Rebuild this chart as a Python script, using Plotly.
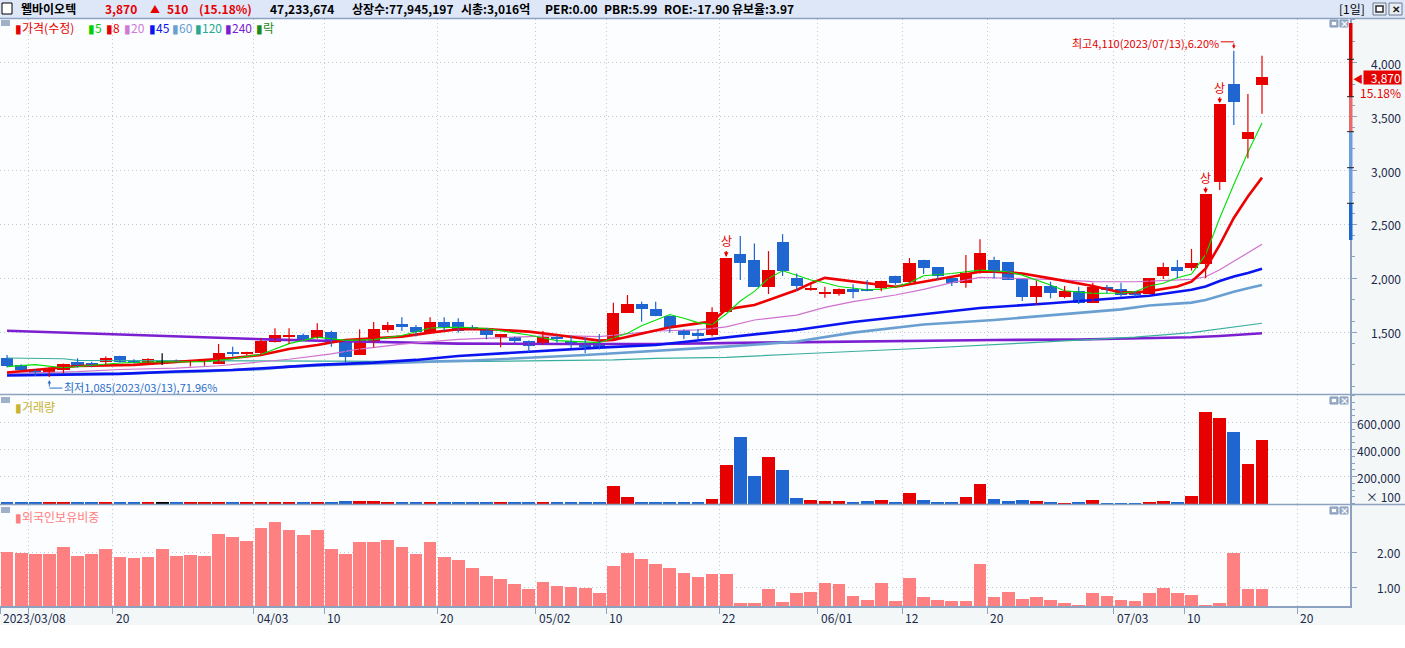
import plotly.graph_objects as go

# ---------------- data ----------------
opens = [1265, 1198, 1157, 1105, 1151, 1228, 1213, 1225, 1281, 1234,
         1201, 1234, 1244, 1228, 1234, 1207, 1312, 1306, 1312, 1414,
         1460, 1475, 1444, 1503, 1429, 1293, 1398, 1521, 1577, 1546,
         1506, 1593, 1596, 1546, 1537, 1460, 1460, 1420, 1389, 1460,
         1423, 1401, 1389, 1438, 1682, 1759, 1713, 1654, 1522, 1491,
         1478, 1688, 2225, 2170, 1923, 2336, 2003, 1895, 1864, 1858,
         1901, 1898, 1914, 2022, 1963, 2170, 2105, 2003, 1960, 2046,
         2170, 2151, 1994, 1830, 1929, 1830, 1883, 1775, 1917, 1901,
         1867, 1852, 2025, 2106, 2100, 2134, 2897, 3802, 3290, 3793]
highs = [1290, 1203, 1160, 1176, 1210, 1259, 1228, 1275, 1283, 1250,
         1260, 1305, 1248, 1240, 1250, 1392, 1367, 1320, 1444, 1537,
         1537, 1490, 1583, 1515, 1430, 1528, 1596, 1596, 1639, 1568,
         1639, 1639, 1630, 1568, 1540, 1485, 1462, 1423, 1512, 1475,
         1469, 1454, 1485, 1775, 1846, 1784, 1784, 1657, 1525, 1528,
         1732, 2190, 2392, 2324, 2253, 2410, 2046, 1960, 1923, 1906,
         1945, 1985, 1978, 2025, 2188, 2172, 2105, 2003, 2216, 2364,
         2201, 2151, 1994, 1978, 1969, 1929, 1923, 1960, 1938, 1960,
         1883, 2000, 2146, 2171, 2273, 2780, 3615, 4110, 3710, 4065]
lows = [1176, 1146, 1096, 1085, 1120, 1173, 1176, 1198, 1220, 1210,
        1200, 1198, 1225, 1182, 1190, 1205, 1275, 1290, 1290, 1405,
        1392, 1423, 1440, 1367, 1219, 1290, 1361, 1500, 1512, 1460,
        1497, 1512, 1497, 1521, 1435, 1361, 1398, 1315, 1385, 1404,
        1352, 1306, 1340, 1435, 1680, 1599, 1648, 1497, 1438, 1438,
        1460, 1688, 1985, 1920, 1855, 2022, 1886, 1886, 1821, 1840,
        1815, 1880, 1880, 1940, 1960, 2040, 1985, 1929, 1914, 2046,
        2000, 1985, 1790, 1753, 1815, 1815, 1762, 1775, 1861, 1830,
        1830, 1852, 1995, 2001, 2072, 2001, 2820, 3422, 3115, 3527]
closes = [1188, 1151, 1114, 1173, 1207, 1188, 1203, 1265, 1222, 1222,
          1253, 1234, 1228, 1237, 1240, 1306, 1300, 1315, 1423, 1475,
          1475, 1441, 1521, 1398, 1275, 1429, 1531, 1568, 1552, 1506,
          1596, 1552, 1515, 1534, 1475, 1481, 1423, 1377, 1460, 1435,
          1398, 1367, 1352, 1682, 1759, 1713, 1651, 1537, 1475, 1475,
          1688, 2190, 2145, 1923, 2077, 2068, 1932, 1910, 1870, 1904,
          1877, 1889, 1975, 1957, 2145, 2099, 2022, 1960, 2052, 2235,
          2068, 1985, 1830, 1929, 1867, 1883, 1775, 1917, 1892, 1846,
          1852, 2000, 2103, 2072, 2140, 2780, 3615, 3632, 3360, 3870]
volumes = [7500, 7500, 7500, 7500, 7500, 7500, 7500, 7500, 7500, 7500,
           7500, 7500, 7500, 7500, 7500, 15000, 7500, 7500, 7500, 15000,
           7500, 7500, 15000, 7500, 22500, 22500, 22500, 15000, 15000, 7500,
           15000, 7500, 7500, 7500, 7500, 7500, 7500, 7500, 7500, 7500,
           7500, 7500, 7500, 127500, 52500, 15000, 7500, 15000, 15000, 7500,
           32500, 287500, 490000, 205000, 347500, 250000, 40000, 27500, 20000, 20000,
           10000, 17500, 25000, 10000, 77500, 25000, 10000, 10000, 47500, 145000,
           32500, 17500, 25000, 17500, 10000, 2500, 10000, 25000, 2500, 2500,
           2500, 10000, 17500, 10000, 55000, 677500, 632500, 527500, 295000, 475000]
foreign_pct = [2.02, 1.99, 1.96, 1.96, 2.14, 1.90, 1.96, 2.08, 1.87, 1.84,
               1.87, 2.08, 1.90, 1.93, 1.90, 2.51, 2.43, 2.31, 2.69, 2.86,
               2.63, 2.49, 2.63, 2.08, 1.96, 2.28, 2.28, 2.34, 2.14, 1.96,
               2.28, 1.87, 1.79, 1.55, 1.32, 1.23, 1.09, 0.94, 1.15, 1.03,
               1.00, 0.97, 0.83, 1.61, 1.99, 1.82, 1.67, 1.55, 1.41, 1.29,
               1.39, 1.39, 0.56, 0.56, 0.94, 0.59, 0.83, 0.88, 1.12, 1.09,
               0.74, 0.65, 1.12, 0.62, 1.26, 0.71, 0.65, 0.62, 0.62, 1.67,
               0.71, 0.88, 0.68, 0.71, 0.65, 0.56, 0.50, 0.85, 0.75, 0.65,
               0.62, 0.83, 0.97, 0.83, 0.77, 0.50, 0.56, 1.99, 0.94, 0.94]

ma5_idx = [0, 2, 4, 6, 8, 10, 12, 14, 16, 18, 20, 22, 24, 26, 28, 30, 32, 34, 37, 39,
           42, 43, 44, 45, 47, 48, 49, 50, 51, 52, 53, 54, 55, 56, 57, 58, 59, 61, 62, 63,
           64, 65, 67, 69, 71, 72, 73, 74, 75, 77, 79, 80, 81, 82, 83, 84, 85, 86, 87, 88, 89]
ma5_val = [1182, 1200, 1172, 1190, 1215, 1225, 1230, 1228, 1255, 1295, 1395, 1455, 1425, 1432, 1470, 1540, 1548, 1535, 1475, 1423,
           1404, 1444, 1491, 1560, 1665, 1630, 1590, 1570, 1670, 1790, 1880, 2000, 2070, 2030, 1985, 1960, 1925, 1895, 1900, 1920,
           1960, 2025, 2045, 2077, 2062, 2030, 1985, 1938, 1886, 1861, 1865, 1877, 1929, 1954, 2005, 2040, 2220, 2560, 2870, 3170, 3440]
ma8_idx = [0, 3, 5, 9, 12, 14, 16, 18, 20, 22, 24, 26, 28, 30, 32, 34, 37, 39, 42, 43,
           45, 47, 49, 50, 51, 53, 56, 57, 58, 59, 61, 63, 65, 67, 69, 70, 72, 74, 77, 79,
           80, 81, 83, 84, 85, 86, 87, 88, 89]
ma8_val = [1128, 1160, 1188, 1198, 1225, 1238, 1262, 1290, 1345, 1383, 1429, 1445, 1460, 1497, 1528, 1530, 1506, 1475, 1423, 1429,
           1491, 1546, 1583, 1600, 1713, 1753, 1892, 1954, 2005, 1990, 1954, 1923, 1969, 2015, 2062, 2062, 2046, 2000, 1929, 1870,
           1870, 1880, 1924, 1970, 2090, 2310, 2560, 2760, 2934]
ma20_idx = [0, 5, 8, 12, 15, 18, 20, 23, 25, 28, 30, 32, 39, 42, 46, 49, 51, 53, 56, 58,
            60, 63, 65, 67, 69, 72, 75, 77, 80, 84, 85, 86, 87, 88, 89]
ma20_val = [1118, 1135, 1155, 1168, 1190, 1225, 1250, 1300, 1345, 1390, 1415, 1435, 1469, 1460, 1512, 1522, 1550, 1614, 1660, 1731,
            1784, 1846, 1898, 1960, 2010, 2000, 1985, 1970, 1969, 1990, 2015, 2080, 2160, 2240, 2316]
ma45_idx = [0, 8, 12, 16, 19, 22, 26, 29, 32, 38, 42, 46, 51, 56, 60, 65, 69, 74, 79, 81, 84, 85, 86, 87, 88, 89]
ma45_val = [1099, 1115, 1136, 1151, 1173, 1198, 1219, 1244, 1281, 1330, 1358, 1383, 1454, 1522, 1595, 1665, 1725, 1769, 1815, 1839,
            1894, 1925, 1975, 2017, 2050, 2090]
ma60_idx = [0, 8, 14, 16, 18, 20, 23, 26, 30, 33, 41, 51, 56, 60, 65, 70, 74, 79, 81, 84, 85, 86, 87, 88, 89]
ma60_val = [1112, 1118, 1136, 1151, 1157, 1182, 1198, 1213, 1228, 1238, 1290, 1367, 1414, 1497, 1572, 1614, 1660, 1713, 1748, 1775,
            1800, 1840, 1877, 1908, 1939]
ma120_idx = [0, 4, 5, 15, 25, 32, 37, 43, 46, 51, 56, 60, 65, 72, 77, 80, 84, 89]
ma120_val = [1262, 1255, 1240, 1235, 1230, 1228, 1235, 1245, 1259, 1268, 1299, 1321, 1352, 1400, 1435, 1455, 1497, 1584]
ma240_idx = [0, 2, 5, 8, 10, 12, 14, 16, 19, 23, 28, 32, 40, 46, 52, 58, 64, 70, 76, 80, 84, 86, 88, 89]
ma240_val = [1515, 1506, 1491, 1481, 1472, 1460, 1454, 1444, 1432, 1420, 1404, 1395, 1392, 1392, 1402, 1412, 1416, 1428, 1434, 1444,
             1454, 1466, 1481, 1491]

tick_idx = [0, 2, 8, 18, 23, 31, 38, 43, 51, 58, 64, 70, 79, 84, 92]
tick_text = ["2023/03/08", "", "20", "04/03", "10", "20", "05/02", "10", "22", "06/01", "12", "20", "07/03", "10", "20"]
price_ticks = [1500, 2000, 2500, 3000, 3500, 4000]
vol_ticks = [200000, 400000, 600000]
vol_tick_text = ["200,000", "400,000", "600,000"]
for_ticks = [1.0, 2.0]
for_tick_text = ["1.00", "2.00"]
limit_up_idx = [51, 85, 86]
high_idx, high_val = 87, 4110
low_idx, low_val = 3, 1085
last_close = 3870

stock_name = "웰바이오텍"
header_items = [("3,870", "red"), ("▲", "red"), ("510", "red"), ("(15.18%)", "red"),
                ("47,233,674", "black"), ("상장수:77,945,197", "black"), ("시총:3,016억", "black"),
                ("PER:0.00", "black"), ("PBR:5.99", "black"), ("ROE:-17.90", "black"), ("유보율:3.97", "black")]
legend_items = [("가격(수정)", "#e60000"), ("5", "#00d000"), ("8", "#e60000"), ("20", "#d07ad8"),
                ("45", "#0a14f0"), ("60", "#6a9fd2"), ("120", "#2aa890"), ("240", "#7b1fd1"), ("락", "#1a8a1a")]

# ---------------- layout helpers ----------------
W, H = 1405, 648
PLOT_R = 1350
KR = "Noto Sans CJK KR"
NAVY = "#1c2a4a"
RED = "#e60000"
BLUE = "#1f66d1"
AXC = "#8da2c0"
GRID = "#c3cad2"
GDASH = "1px,3px"


def px(x):
    return x / W


def py(y):
    return 1 - y / H


n = len(closes)
assert all(len(a) == n for a in (opens, highs, lows, volumes, foreign_pct))
idx = list(range(n))

fig = go.Figure()

# moving averages (drawn below candles)
ma_specs = [
    (ma240_idx, ma240_val, "#7b1fd1", 2.6),
    (ma120_idx, ma120_val, "#3aae9e", 1.2),
    (ma60_idx, ma60_val, "#6a9fd2", 2.6),
    (ma45_idx, ma45_val, "#0a14f0", 2.6),
    (ma20_idx, ma20_val, "#d070d0", 1.2),
    (ma8_idx, ma8_val, "#ee0000", 2.6),
    (ma5_idx, ma5_val, "#00e000", 1.1),
]
for xi, yv, col, wd in ma_specs:
    fig.add_trace(go.Scatter(x=xi, y=yv, mode="lines", line=dict(color=col, width=wd),
                             xaxis="x", yaxis="y", hoverinfo="skip"))


def kind(i):
    if closes[i] > opens[i]:
        return "up"
    if closes[i] < opens[i]:
        return "down"
    return "flat"


colors = {"up": RED, "down": BLUE, "flat": "#000000"}
for k, col in colors.items():
    sel = [i for i in idx if kind(i) == k]
    if not sel:
        continue
    wx, wy = [], []
    for i in sel:
        wx += [i, i, None]
        wy += [lows[i], highs[i], None]
    fig.add_trace(go.Scatter(x=wx, y=wy, mode="lines", line=dict(color=col, width=1.2),
                             xaxis="x", yaxis="y", hoverinfo="skip"))
    bases, hts = [], []
    for i in sel:
        lo, hi = min(opens[i], closes[i]), max(opens[i], closes[i])
        h = max(hi - lo, 10)
        bases.append(lo - (h - (hi - lo)) / 2)
        hts.append(h)
    fig.add_trace(go.Bar(x=sel, y=hts, base=bases, width=0.86,
                         marker=dict(color=col, line=dict(width=0)),
                         xaxis="x", yaxis="y", hoverinfo="skip"))

# volume
vcol = [colors[kind(i)] for i in idx]
fig.add_trace(go.Bar(x=idx, y=volumes, width=0.9, marker=dict(color=vcol, line=dict(width=0)),
                     xaxis="x2", yaxis="y2", hoverinfo="skip"))
# foreign ownership
fig.add_trace(go.Bar(x=idx, y=foreign_pct, width=0.9, marker=dict(color="#ff8080", line=dict(width=0)),
                     xaxis="x3", yaxis="y3", hoverinfo="skip"))

xcommon = dict(range=[-0.5, 95.24], tickmode="array", tickvals=[t - 0.5 for t in tick_idx],
               showgrid=True, gridcolor=GRID, griddash=GDASH, gridwidth=1, zeroline=False,
               showticklabels=False, fixedrange=True, automargin=False)
ycommon = dict(side="right", showticklabels=False, showgrid=True, gridcolor=GRID, griddash=GDASH,
               gridwidth=1, zeroline=False, showline=True, linecolor=AXC, linewidth=1.5,
               ticks="outside", ticklen=5, tickcolor=AXC, automargin=False, fixedrange=True)

fig.update_layout(
    width=W, height=H, margin=dict(l=0, r=0, t=0, b=0),
    paper_bgcolor="white", plot_bgcolor="#fbfdfe", showlegend=False,
    barmode="overlay", bargap=0,
    xaxis=dict(domain=[0, px(PLOT_R)], anchor="y", ticks="", **xcommon),
    xaxis2=dict(domain=[0, px(PLOT_R)], anchor="y2", matches="x", ticks="", **xcommon),
    xaxis3=dict(domain=[0, px(PLOT_R)], anchor="y3", matches="x", ticks="outside", ticklen=6,
                tickcolor=AXC, showline=True, linecolor=AXC, linewidth=1.5, **xcommon),
    yaxis=dict(domain=[py(394), py(19)], anchor="x", range=[928, 4405], tickvals=price_ticks,
               minor=dict(tickmode="linear", tick0=0, dtick=200, ticks="outside", ticklen=3,
                          tickcolor=AXC, showgrid=False), **ycommon),
    yaxis2=dict(domain=[py(504), py(395)], anchor="x2", range=[-3000, 805000], tickvals=vol_ticks,
                minor=dict(tickmode="linear", tick0=0, dtick=50000, ticks="outside", ticklen=3,
                           tickcolor=AXC, showgrid=False), **ycommon),
    yaxis3=dict(domain=[py(606), py(505)], anchor="x3", range=[0.466, 3.35], tickvals=for_ticks, **ycommon),
)

shapes = []
ann = []


def rect(x0, y0, x1, y1, fill, line=None, lw=0, layer="below"):
    shapes.append(dict(type="rect", xref="paper", yref="paper", x0=px(x0), x1=px(x1), y0=py(y1), y1=py(y0),
                       fillcolor=fill, line=dict(color=line or fill, width=lw), layer=layer))


def hline(y, x0, x1, col=AXC, w=1.5):
    shapes.append(dict(type="line", xref="paper", yref="paper", x0=px(x0), x1=px(x1), y0=py(y), y1=py(y),
                       line=dict(color=col, width=w), layer="above"))


def text(x, y, s, color=NAVY, size=12, xanchor="left", xref="paper", yref="paper", bold=False, family=KR, **kw):
    ann.append(dict(x=x, y=y, xref=xref, yref=yref, text=(f"<b>{s}</b>" if bold else s), showarrow=False,
                    xanchor=xanchor, yanchor="middle", font=dict(family=family, size=size, color=color), **kw))


# backgrounds
rect(0, 0, W, 18, "#dde7f8")
rect(PLOT_R + 1, 19, W, 625, "#f3f7f8")
rect(0, 606, PLOT_R + 1, 625, "#f3f7f8")
hline(18.5, 0, W)
hline(394.5, 0, W)
hline(504.5, 0, W)

# header
rect(2, 3, 12, 14, "white", line="#000000", lw=1, layer="above")
text(px(19), py(9), stock_name, color="#000000", size=12, bold=True)
hx = [103, 148, 165, 197, 268, 350, 459, 543, 602, 662, 730]
for (s, c), x in zip(header_items, hx):
    text(px(x), py(9), s, color=(RED if c == "red" else "#000000"), size=(10 if s == "▲" else 12), bold=True)
text(px(1337), py(9), "[1일]", color="#000000", size=12)
rect(1373, 3, 1386, 15, "#e9eef6", line="#6b7a90", lw=1, layer="above")
rect(1376, 6, 1383, 12, "white", line="#2a2a2a", lw=1.5, layer="above")
rect(1389, 3, 1402, 15, "#e9eef6", line="#6b7a90", lw=1, layer="above")
text(px(1395.5), py(9), "✕", color="#1a1a1a", size=10, xanchor="center", bold=True)

# panel corner icons
for top in (20, 397, 507):
    rect(1, top, 10, top + 6, "#9fb1c9", layer="above")
    rect(1330, top, 1338, top + 7, "#9fb1c9", line="#8097b8", lw=1, layer="above")
    rect(1332, top + 2, 1336, top + 5, "white", layer="above")
    rect(1340, top, 1348, top + 7, "#9fb1c9", line="#8097b8", lw=1, layer="above")
    text(px(1344), py(top + 3.5), "×", color="white", size=9, xanchor="center", bold=True)

# legends
lx = [13, 86, 104, 122, 147, 170, 193, 223, 254]
for (s, c), x in zip(legend_items, lx):
    text(px(x), py(28), "▮" + s, color=c, size=12)
text(px(13), py(406), "▮거래량", color="#c8b432", size=12)
text(px(13), py(516), "▮외국인보유비중", color="#ff7f7f", size=12)

# axis labels
for v in price_ticks:
    text(px(1402), v, f"{v:,}", xanchor="right", yref="y", size=12, height=14, borderpad=0)
for v, s in zip(vol_ticks, vol_tick_text):
    text(px(1402), v, s, xanchor="right", yref="y2", size=12, height=14, borderpad=0)
text(px(1402), py(496), "× 100", xanchor="right", size=12, height=14, borderpad=0)
for v, s in zip(for_ticks, for_tick_text):
    text(px(1402), v, s, xanchor="right", yref="y3", size=12, height=14, borderpad=0)

# x labels
for t, s in zip(tick_idx, tick_text):
    if s:
        text(t - 0.5, py(617), s, xref="x3", xshift=1, size=12)

# right-side price bar indicator
for (y0, y1, c) in [(23, 97, "#e00000"), (97, 132, "#e86a6a"), (132, 203, "#6b9de0"), (203, 240, "#1f66d1")]:
    rect(1349, y0, 1352.5, y1, c, layer="above")
for yy in (59.3, 96.7, 131.7, 167.7, 203.3):
    hline(yy, 1347, 1354, col="#222222", w=1)

# current price tag
ann.append(dict(x=px(1402), y=last_close, xref="paper", yref="y", text="3,870", showarrow=False,
                xanchor="right", yanchor="middle", yshift=-1, bgcolor=RED, width=37, height=13, align="right",
                valign="middle", borderpad=0, font=dict(family=KR, size=12, color="white")))
text(px(1351), last_close, "◀", color=RED, size=10, yref="y", height=12, yshift=-1)
ann.append(dict(x=px(1402), y=last_close, xref="paper", yref="y", text="15.18%", showarrow=False,
                xanchor="right", yanchor="top", yshift=-8, height=13, valign="middle", borderpad=0,
                font=dict(family=KR, size=12, color=RED)))

# upper-limit markers
for i in limit_up_idx:
    ann.append(dict(x=i, y=closes[i], xref="x", yref="y", text="상", showarrow=True, ax=0, ay=-17,
                    arrowhead=2, arrowsize=0.7, arrowwidth=1.3, arrowcolor=RED, standoff=1,
                    font=dict(family=KR, size=12, color=RED)))

# highest / lowest
text(high_idx, high_val, "최고4,110(2023/07/13),6.20%", color=RED, size=11, xanchor="right",
     xref="x", yref="y", xshift=-13, yshift=8)
shapes.append(dict(type="line", xref="x", yref="y", xsizemode="pixel", ysizemode="pixel",
                   xanchor=high_idx, yanchor=high_val, x0=-13, x1=0, y0=9, y1=9,
                   line=dict(color=RED, width=1), layer="above"))
ann.append(dict(x=high_idx, y=high_val, xref="x", yref="y", text="", showarrow=True, ax=0, ay=-9,
                arrowhead=2, arrowsize=0.7, arrowwidth=1, arrowcolor=RED, standoff=2))
text(low_idx, low_val, "최저1,085(2023/03/13),71.96%", color="#2a6cc8", size=11, xanchor="left",
     xref="x", yref="y", xshift=13, yshift=-10)
shapes.append(dict(type="line", xref="x", yref="y", xsizemode="pixel", ysizemode="pixel",
                   xanchor=low_idx, yanchor=low_val, x0=0, x1=13, y0=-11, y1=-11,
                   line=dict(color="#2a6cc8", width=1), layer="above"))
ann.append(dict(x=low_idx, y=low_val, xref="x", yref="y", text="", showarrow=True, ax=0, ay=11,
                arrowhead=2, arrowsize=0.7, arrowwidth=1, arrowcolor="#2a6cc8", standoff=3))

fig.update_layout(shapes=shapes, annotations=ann)
fig.write_html("out.html", config={"displayModeBar": False},
               post_script="document.body.style.margin='0';document.body.style.overflow='hidden';")
